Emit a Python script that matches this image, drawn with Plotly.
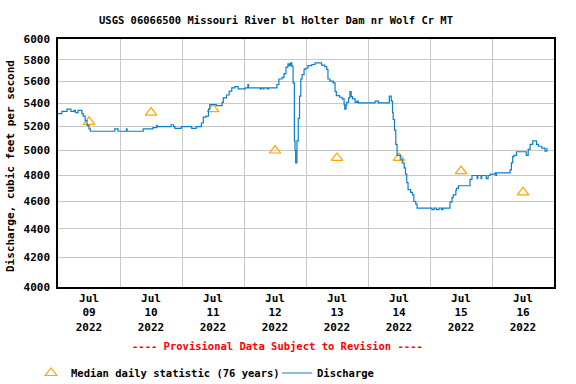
import plotly.graph_objects as go
import math

# ---------------- data ----------------
median_dates = ["2022-07-09 12:00", "2022-07-10 12:00", "2022-07-11 12:00", "2022-07-12 12:00",
                "2022-07-13 12:00", "2022-07-14 12:00", "2022-07-15 12:00", "2022-07-16 12:00"]
median_values = [5240, 5320, 5350, 5000, 4940, 4940, 4835, 4670]

discharge_times = [
    "2022-07-09 00:00", "2022-07-09 01:30", "2022-07-09 03:30", "2022-07-09 05:00", "2022-07-09 06:15",
    "2022-07-09 06:45", "2022-07-09 07:45", "2022-07-09 09:15", "2022-07-09 09:45", "2022-07-09 10:30",
    "2022-07-09 11:15", "2022-07-09 12:00", "2022-07-09 12:30", "2022-07-09 22:00", "2022-07-09 23:15",
    "2022-07-10 02:30", "2022-07-10 02:45", "2022-07-10 09:00", "2022-07-10 12:45", "2022-07-10 14:15",
    "2022-07-10 14:30", "2022-07-10 19:45", "2022-07-10 20:45", "2022-07-10 21:15", "2022-07-10 23:45",
    "2022-07-11 03:45", "2022-07-11 05:30", "2022-07-11 07:30", "2022-07-11 08:15", "2022-07-11 09:15",
    "2022-07-11 10:15", "2022-07-11 10:45", "2022-07-11 13:15", "2022-07-11 15:30", "2022-07-11 16:00",
    "2022-07-11 17:15", "2022-07-11 18:15", "2022-07-11 19:15", "2022-07-11 20:30", "2022-07-11 21:45",
    "2022-07-12 00:30", "2022-07-12 01:30", "2022-07-12 01:45", "2022-07-12 06:15", "2022-07-12 06:45",
    "2022-07-12 07:30", "2022-07-12 07:45", "2022-07-12 09:00", "2022-07-12 09:30", "2022-07-12 12:45",
    "2022-07-12 13:30", "2022-07-12 14:45", "2022-07-12 15:30", "2022-07-12 16:15", "2022-07-12 17:00",
    "2022-07-12 17:30", "2022-07-12 18:00", "2022-07-12 18:30", "2022-07-12 19:00", "2022-07-12 19:30",
    "2022-07-12 19:45", "2022-07-12 20:00", "2022-07-12 20:30", "2022-07-12 21:00", "2022-07-12 21:30",
    "2022-07-12 22:00", "2022-07-12 22:30", "2022-07-12 23:15", "2022-07-12 23:45",
    "2022-07-13 00:45", "2022-07-13 02:15", "2022-07-13 03:30", "2022-07-13 06:00", "2022-07-13 07:15",
    "2022-07-13 08:00", "2022-07-13 08:30", "2022-07-13 09:15", "2022-07-13 10:30", "2022-07-13 11:15",
    "2022-07-13 11:45", "2022-07-13 13:00", "2022-07-13 14:00", "2022-07-13 14:45", "2022-07-13 15:00",
    "2022-07-13 15:30", "2022-07-13 15:45", "2022-07-13 16:30", "2022-07-13 17:00", "2022-07-13 17:30",
    "2022-07-13 18:00", "2022-07-13 19:00", "2022-07-13 19:45", "2022-07-13 20:15",
    "2022-07-14 02:45", "2022-07-14 04:00", "2022-07-14 08:15", "2022-07-14 09:00", "2022-07-14 09:30",
    "2022-07-14 09:45", "2022-07-14 10:15", "2022-07-14 10:45", "2022-07-14 11:15", "2022-07-14 12:30",
    "2022-07-14 13:15", "2022-07-14 14:00", "2022-07-14 14:30", "2022-07-14 15:00", "2022-07-14 15:30",
    "2022-07-14 16:30", "2022-07-14 17:15", "2022-07-14 17:45", "2022-07-14 18:30", "2022-07-14 19:00",
    "2022-07-15 00:45", "2022-07-15 01:30", "2022-07-15 02:30", "2022-07-15 03:30", "2022-07-15 04:30",
    "2022-07-15 05:00", "2022-07-15 07:45", "2022-07-15 08:30", "2022-07-15 09:00", "2022-07-15 10:00",
    "2022-07-15 10:15", "2022-07-15 11:00", "2022-07-15 15:30", "2022-07-15 16:15", "2022-07-15 18:15",
    "2022-07-15 18:30", "2022-07-15 19:45", "2022-07-15 20:00", "2022-07-15 21:45", "2022-07-15 22:30",
    "2022-07-15 23:15",
    "2022-07-16 01:15", "2022-07-16 01:30", "2022-07-16 01:45", "2022-07-16 07:00", "2022-07-16 07:30",
    "2022-07-16 08:00", "2022-07-16 08:30", "2022-07-16 09:30", "2022-07-16 13:15", "2022-07-16 14:00",
    "2022-07-16 14:45", "2022-07-16 15:45", "2022-07-16 17:15", "2022-07-16 18:00", "2022-07-16 19:15",
    "2022-07-16 20:30", "2022-07-16 21:15", "2022-07-16 21:30",
]
discharge_values = [
    5310, 5330, 5350, 5330, 5340,
    5320, 5340, 5310, 5290, 5250,
    5210, 5180, 5160, 5180, 5160,
    5180, 5160, 5180, 5190, 5210,
    5200, 5215, 5200, 5185, 5200,
    5185, 5200, 5230, 5280, 5290,
    5350, 5390, 5380, 5410, 5450,
    5475, 5510, 5540, 5550, 5530,
    5540, 5570, 5540, 5530, 5540,
    5530, 5540, 5530, 5540, 5570,
    5620, 5635, 5670, 5730, 5760,
    5745, 5770, 5740, 5585, 5080,
    5000, 4900, 5080, 5270, 5465,
    5620, 5660, 5710, 5720,
    5745, 5755, 5770, 5750, 5735,
    5710, 5620, 5600, 5585, 5505,
    5470, 5455, 5440, 5390, 5350,
    5385, 5410, 5450, 5505, 5460,
    5440, 5410, 5420, 5405,
    5420, 5405, 5465, 5420, 5320,
    5260, 5170, 5050, 4960, 4930,
    4900, 4860, 4810, 4745, 4690,
    4670, 4650, 4600, 4580, 4550,
    4540, 4550, 4540, 4550, 4540,
    4550, 4595, 4630, 4650, 4685,
    4700, 4720, 4770, 4800, 4775,
    4800, 4775, 4800, 4775, 4800,
    4810,
    4820, 4800, 4820, 4845, 4900,
    4950, 4960, 4990, 4960, 5010,
    5050, 5080, 5050, 5035, 5020,
    4995, 5015, 5015,
]

tick_dates = median_dates
tick_labels = ["Jul<br>09<br>2022", "Jul<br>10<br>2022", "Jul<br>11<br>2022", "Jul<br>12<br>2022",
               "Jul<br>13<br>2022", "Jul<br>14<br>2022", "Jul<br>15<br>2022", "Jul<br>16<br>2022"]
day_lines = ["2022-07-10", "2022-07-11", "2022-07-12", "2022-07-13", "2022-07-14", "2022-07-15", "2022-07-16"]
y_ticks = [4000, 4200, 4400, 4600, 4800, 5000, 5200, 5400, 5600, 5800, 6000]

FONT = "DejaVu Sans Mono"
BLUE = "#0A7FD0"
ORANGE = "#FFA500"

fig = go.Figure()
fig.add_trace(go.Scatter(
    x=median_dates, y=median_values, mode="markers",
    name="Median daily statistic (76 years)",
    marker=dict(symbol="triangle-up-open", size=10, color=ORANGE, line=dict(width=1.2, color=ORANGE)),
))
fig.add_trace(go.Scatter(
    x=discharge_times, y=discharge_values, mode="lines", name="Discharge",
    line=dict(color=BLUE, width=1.2, shape="hv"),
))

fig.update_layout(
    width=576, height=384,
    margin=dict(l=58, r=22, t=39, b=97),
    paper_bgcolor="white", plot_bgcolor="white",
    font=dict(family=FONT, size=10.5, color="black", weight="bold"),
    title=dict(text="USGS 06066500 Missouri River bl Holter Dam nr Wolf Cr MT",
               x=276 / 576, xanchor="center", y=1 - 20 / 384, yanchor="middle",
               font=dict(family=FONT, size=10.5, color="black", weight="bold")),
    showlegend=True,
    legend=dict(orientation="h", x=31 / 576, xanchor="left", y=1 - 373 / 384, yanchor="middle",
                xref="container", yref="container", font=dict(family=FONT, size=10.5, weight="bold"),
                itemwidth=30, entrywidth=201, tracegroupgap=0, bgcolor="rgba(0,0,0,0)"),
)

fig.update_xaxes(
    type="date", range=["2022-07-09 00:00", "2022-07-17 00:00"],
    tickmode="array", tickvals=tick_dates, ticktext=tick_labels,
    showgrid=False, ticks="", tickfont=dict(family=FONT, size=11, weight="bold"),
    minor=dict(tickmode="array", tickvals=day_lines, showgrid=True, gridcolor="#C8C8C8", gridwidth=1, ticks=""),
    showline=True, linecolor="black", linewidth=1.5, mirror=True, zeroline=False,
)
fig.update_yaxes(
    type="log", range=[math.log10(4000), math.log10(6000)],
    tickmode="array", tickvals=y_ticks, ticktext=[str(v) for v in y_ticks],
    showgrid=True, gridcolor="#C8C8C8", gridwidth=1, ticks="", ticklabelstandoff=4,
    tickfont=dict(family=FONT, size=11, weight="bold"),
    showline=True, linecolor="black", linewidth=1.5, mirror=True, zeroline=False,
)

fig.add_annotation(text="Discharge, cubic feet per second", textangle=-90,
                   xref="paper", yref="paper", x=(10 - 58) / 496, y=(287 - 166) / 248,
                   xanchor="center", yanchor="middle", showarrow=False,
                   font=dict(family=FONT, size=11, color="black", weight="bold"))

fig.add_annotation(text="---- Provisional Data Subject to Revision ----",
                   xref="paper", yref="paper", x=(277 - 58) / 496, y=-(346 - 287) / 248,
                   xanchor="center", yanchor="middle", showarrow=False,
                   font=dict(family=FONT, size=10.5, color="red", weight="bold"))

fig.write_html("out.html", post_script="document.body.style.margin='0';",
               config={"displayModeBar": False})
